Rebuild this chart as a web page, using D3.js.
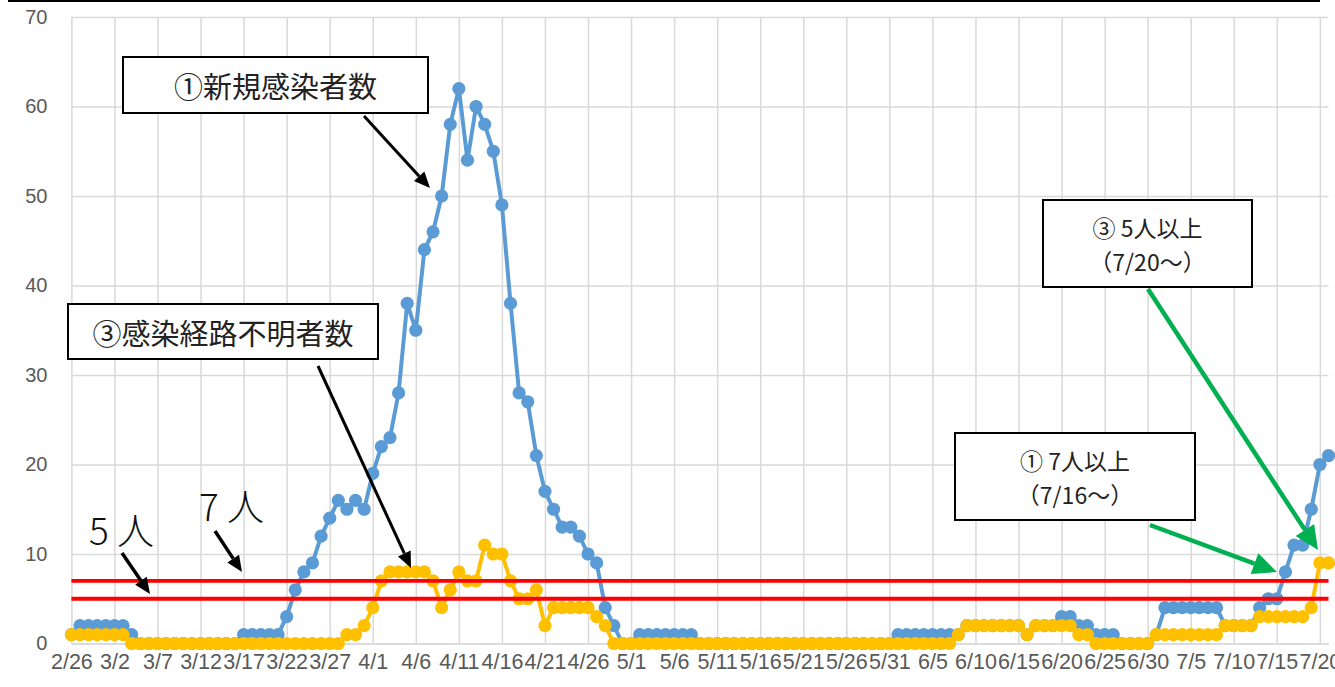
<!DOCTYPE html>
<html><head><meta charset="utf-8">
<script src="https://cdn.jsdelivr.net/npm/d3@7"></script>
<style>
html,body{margin:0;padding:0;background:#fff;}
svg{display:block;}
</style></head>
<body>
<svg id="chart" width="1335" height="687"></svg>
<script>
// ---- data ----
const startDate = new Date(2020, 1, 26);
const endDate = new Date(2020, 6, 22);
const fmt = d => (d.getMonth() + 1) + "/" + d.getDate();
const categories = d3.timeDay.range(startDate, endDate).map(fmt); // 2/26 .. 7/21

const tickLabels = ["2/26","3/2","3/7","3/12","3/17","3/22","3/27","4/1","4/6","4/11","4/16","4/21","4/26","5/1","5/6","5/11","5/16","5/21","5/26","5/31","6/5","6/10","6/15","6/20","6/25","6/30","7/5","7/10","7/15","7/20"];
const yTicks = [0,10,20,30,40,50,60,70];

// ① new infections per day
const newCases = [
 1,2,2,2,2,2,2,1,0,0,
 0,0,0,0,0,0,0,0,0,0,
 1,1,1,1,1,3,6,8,9,12,
 14,16,15,16,15,19,22,23,28,38,
 35,44,46,50,58,62,54,60,58,55,
 49,38,28,27,21,17,15,13,13,12,
 10,9,4,2,0,0,1,1,1,1,
 1,1,1,0,0,0,0,0,0,0,
 0,0,0,0,0,0,0,0,0,0,
 0,0,0,0,0,0,1,1,1,1,
 1,1,1,1,2,2,2,2,2,2,
 2,1,2,2,2,3,3,2,2,1,
 1,1,0,0,0,0,1,4,4,4,
 4,4,4,4,2,2,2,2,4,5,
 5,8,11,11,15,20,21
];
// ③ infection route unknown
const unknownRoute = [
 1,1,1,1,1,1,1,0,0,0,
 0,0,0,0,0,0,0,0,0,0,
 0,0,0,0,0,0,0,0,0,0,
 0,0,1,1,2,4,7,8,8,8,
 8,8,7,4,6,8,7,7,11,10,
 10,7,5,5,6,2,4,4,4,4,
 4,3,2,0,0,0,0,0,0,0,
 0,0,0,0,0,0,0,0,0,0,
 0,0,0,0,0,0,0,0,0,0,
 0,0,0,0,0,0,0,0,0,0,
 0,0,0,1,2,2,2,2,2,2,
 2,1,2,2,2,2,2,1,1,0,
 0,0,0,0,0,0,1,1,1,1,
 1,1,1,1,2,2,2,2,3,3,
 3,3,3,3,4,9,9
];
const thresholds = [7, 5];

// ---- layout ----
const svg = d3.select("#chart");
const pL = 71.4, pR = 1328.5, pT = 17, pB = 643.5;
const x = d3.scalePoint().domain(categories).range([pL, pR]);
const y = d3.scaleLinear().domain([0, 70]).range([pB, pT]);
const grid = "#d9d9d9", txt = "#595959";

// top border line
svg.append("line").attr("x1", 8).attr("x2", 1320).attr("y1", 1).attr("y2", 1)
  .attr("stroke", "#000").attr("stroke-width", 2);

// horizontal gridlines
const gy = svg.append("g").attr("transform", `translate(${pL},0)`)
  .call(d3.axisLeft(y).tickValues(yTicks).tickSize(-(pR - pL)).tickFormat(""));
gy.select(".domain").remove();
gy.selectAll("line").attr("stroke", grid).attr("stroke-width", 1.5);

// vertical gridlines
const gx = svg.append("g").attr("transform", `translate(0,${pB})`)
  .call(d3.axisBottom(x).tickValues(tickLabels).tickSize(-(pB - pT)).tickFormat(""));
gx.select(".domain").remove();
gx.selectAll("line").attr("stroke", grid).attr("stroke-width", 1.5);

// y labels
const yl = svg.append("g").attr("transform", `translate(${pL},0)`)
  .call(d3.axisLeft(y).tickValues(yTicks).tickSize(0).tickPadding(24));
yl.select(".domain").remove();
yl.selectAll("text").attr("fill", txt).style("font-family", "'Liberation Sans', Arial, sans-serif")
  .style("font-size", "20px");

// x labels
const xl = svg.append("g").attr("transform", `translate(0,${pB})`)
  .call(d3.axisBottom(x).tickValues(tickLabels).tickSize(0).tickPadding(10));
xl.select(".domain").attr("stroke", grid).attr("stroke-width", 1.5);
xl.selectAll("text").attr("fill", txt).style("font-family", "'Liberation Sans', Arial, sans-serif")
  .style("font-size", "21.5px");

// series
function drawSeries(vals, color) {
  svg.append("path").datum(vals)
    .attr("d", d3.line().x((d, i) => x(categories[i])).y(d => y(d)))
    .attr("fill", "none").attr("stroke", color).attr("stroke-width", 4)
    .attr("stroke-linejoin", "round");
  svg.append("g").selectAll("circle").data(vals).join("circle")
    .attr("cx", (d, i) => x(categories[i])).attr("cy", d => y(d))
    .attr("r", 6.6).attr("fill", color);
}
drawSeries(newCases, "#5b9bd5");
drawSeries(unknownRoute, "#ffc000");

// threshold lines
thresholds.forEach(t => {
  svg.append("path").datum(categories)
    .attr("d", d3.line().x(c => x(c)).y(() => y(t)))
    .attr("stroke", "#ff0000").attr("stroke-width", 3.8).attr("fill", "none");
});

// annotations
const jp = "'Noto Sans CJK JP', 'Noto Sans', sans-serif";
function arrow(x1, y1, x2, y2, color, w, L, hw) {
  const a = Math.atan2(y2 - y1, x2 - x1);
  const bx = x2 - L * Math.cos(a), by = y2 - L * Math.sin(a);
  svg.append("line").attr("x1", x1).attr("y1", y1).attr("x2", bx).attr("y2", by)
    .attr("stroke", color).attr("stroke-width", w);
  const px = -Math.sin(a), py = Math.cos(a);
  svg.append("polygon").attr("points",
    `${x2},${y2} ${bx + px * hw},${by + py * hw} ${bx - px * hw},${by - py * hw}`)
    .attr("fill", color);
}
function box(x0, y0, x1, y1, lines, size, spacing) {
  svg.append("rect").attr("x", x0).attr("y", y0).attr("width", x1 - x0).attr("height", y1 - y0)
    .attr("fill", "#fff").attr("stroke", "#000").attr("stroke-width", 2);
  const cx = (x0 + x1) / 2, cy = (y0 + y1) / 2;
  const n = lines.length;
  lines.forEach((s, k) => {
    svg.append("text").attr("x", cx).attr("y", cy + (k - (n - 1) / 2) * spacing)
      .attr("text-anchor", "middle").attr("dominant-baseline", "central")
      .style("font-family", jp).style("font-size", size + "px").attr("fill", "#222")
      .text(s);
  });
}

box(123, 57, 428, 113, ["①新規感染者数"], 29, 0);
arrow(364, 116, 430, 188, "#000", 3, 16, 7);

box(68, 304, 378, 359, ["③感染経路不明者数"], 29, 0);
arrow(318, 366, 411, 568, "#000", 3, 16, 7);

svg.append("text").attr("x", 89).attr("y", 545).style("font-family", jp)
  .style("font-size", "37px").style("font-weight", 300).attr("fill", "#111").text("5 人");
arrow(122, 553, 150, 594, "#000", 3.5, 16, 7);

svg.append("text").attr("x", 199).attr("y", 521).style("font-family", jp)
  .style("font-size", "37px").style("font-weight", 300).attr("fill", "#111").text("7 人");
arrow(215, 531, 242, 572, "#000", 3.5, 16, 7);

box(955, 433, 1195, 520, ["① 7人以上", "（7/16〜）"], 23, 34);
arrow(1150, 525, 1277, 572, "#00b050", 4.5, 24, 11);

box(1043, 200, 1252, 287, ["③ 5人以上", "（7/20〜）"], 23, 34);
arrow(1148, 289, 1318, 550, "#00b050", 4.5, 24, 11);
</script>
</body></html>
